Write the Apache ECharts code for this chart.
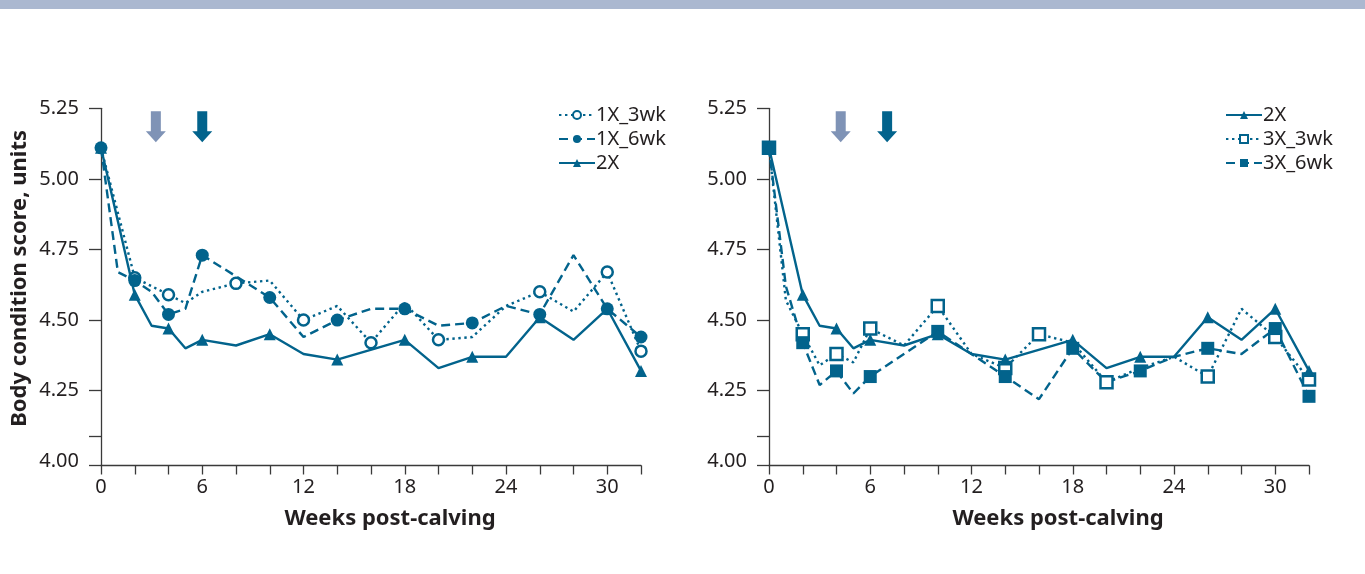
<!DOCTYPE html>
<html><head><meta charset="utf-8">
<script src="https://cdn.jsdelivr.net/npm/echarts@6/dist/echarts.min.js"></script>
<style>html,body{margin:0;padding:0;background:#fff}#c{width:1365px;height:574px}</style>
</head><body><div id="c"></div>
<script>
// ---- data ----
const weeks2X = [0,2,3,4,5,6,8,10,12,14,18,20,22,24,26,28,30,32];
const bcs2X   = [5.11,4.59,4.48,4.47,4.40,4.43,4.41,4.45,4.38,4.36,4.43,4.33,4.37,4.37,4.51,4.43,4.54,4.32];
const marks2X = [0,2,4,6,10,14,18,22,26,30,32];

const weeks1X3 = [0,2,4,5,6,8,10,12,14,16,18,20,22,24,26,28,30,32];
const bcs1X3   = [5.11,4.65,4.59,4.56,4.60,4.63,4.64,4.50,4.55,4.42,4.56,4.43,4.44,4.55,4.60,4.53,4.67,4.39];
const marks1X3 = [2,4,8,12,16,20,26,30,32];

const weeks1X6 = [0,1,2,3,4,5,6,10,12,14,16,18,20,22,24,26,28,30,32];
const bcs1X6   = [5.11,4.67,4.64,4.60,4.52,4.54,4.73,4.58,4.44,4.50,4.54,4.54,4.48,4.49,4.55,4.52,4.73,4.54,4.44];
const marks1X6 = [0,2,4,6,10,14,18,22,26,30,32];

const weeks3X3 = [0,1,2,3,4,5,6,8,10,12,14,16,18,20,22,24,26,28,30,32];
const bcs3X3   = [5.11,4.57,4.45,4.34,4.38,4.35,4.47,4.41,4.55,4.38,4.33,4.45,4.42,4.28,4.33,4.37,4.30,4.54,4.44,4.29];
const marks3X3 = [0,2,4,6,10,14,16,20,26,30,32];

const weeks3X6 = [0,1,2,3,4,5,6,10,12,14,16,18,20,22,24,26,28,30,32];
const bcs3X6   = [5.11,4.62,4.42,4.27,4.32,4.24,4.30,4.46,4.38,4.30,4.22,4.40,4.28,4.32,4.37,4.40,4.38,4.47,4.23];
const marks3X6 = [0,2,4,6,10,14,18,22,26,30,32];

const arrowWeeksLeft  = [3.25, 6];
const arrowWeeksRight = [4.25, 7];
const arrowLevel = 5.185;

const xTickValues  = [0,2,4,6,8,10,12,14,16,18,20,22,24,26,28,30,32];
const xLabelValues = [0,6,12,18,24,30];
const yTickValues  = [3.985,4.09,4.25,4.5,4.75,5.0,5.25];
const yLabelValues = [4.0,4.25,4.5,4.75,5.0,5.25];

// ---- styling ----
const C = '#02638C';
const ARROW_LIGHT = '#7F93B6';
const TXT = '#231F20';
const AX = '#3A3A3A';
const FONT = 'Noto Sans';

function series(name, weeks, vals, marks, g, st) {
  return {
    name, type: 'line', xAxisIndex: g, yAxisIndex: g,
    symbol: st.symbol, symbolSize: st.size, showSymbol: true, showAllSymbol: true,
    clip: false, z: st.z || 3,
    lineStyle: {color: C, width: 2.4, type: st.type, cap: 'butt'},
    itemStyle: {color: st.fill, borderColor: C, borderWidth: st.bw},
    emphasis: {disabled: true},
    data: weeks.map((w, i) => ({value: [w, vals[i]], symbol: marks.includes(w) ? st.symbol : 'none'}))
  };
}
function arrows(weeks, g) {
  return {
    type: 'scatter', xAxisIndex: g, yAxisIndex: g, silent: true, z: 5,
    symbol: 'path://M5,0 L15,0 L15,20 L20,20 L10,31 L0,20 L5,20 Z',
    symbolSize: [20, 31],
    itemStyle: {opacity: 1},
    data: weeks.map((w, i) => ({value: [w, arrowLevel], itemStyle: {color: i === 0 ? ARROW_LIGHT : C, opacity: 1}}))
  };
}
const stTri  = {symbol: 'triangle', size: 12, fill: C, bw: 0, type: 'solid', z: 4};
const stOC   = {symbol: 'circle', size: 11, fill: '#fff', bw: 2.5, type: [2.4, 3.6]};
const stFC   = {symbol: 'circle', size: 13, fill: C, bw: 0, type: [9, 5]};
const stOS   = {symbol: 'rect', size: 12, fill: '#fff', bw: 2.5, type: [2.4, 3.6]};
const stFS   = {symbol: 'rect', size: 13, fill: C, bw: 0, type: [9, 5]};

function xAxis(g) {
  return {
    gridIndex: g, type: 'value', min: 0, max: 32,
    axisLine: {show: true, onZero: false, lineStyle: {color: AX, width: 1.3}},
    axisTick: {show: true, length: 9, customValues: xTickValues, lineStyle: {color: AX, width: 1.3}},
    axisLabel: {customValues: xLabelValues, margin: 12, color: TXT, fontFamily: FONT, fontSize: 20},
    splitLine: {show: false},
    name: 'Weeks post-calving', nameLocation: 'middle', nameGap: 42,
    nameTextStyle: {color: TXT, fontFamily: FONT, fontSize: 22, fontWeight: 'bold', padding: [0, 0, 0, 38]}
  };
}
function yAxis(g, withName) {
  const a = {
    gridIndex: g, type: 'value', min: 3.985, max: 5.25,
    axisLine: {show: true, lineStyle: {color: AX, width: 1.3}},
    axisTick: {show: true, length: 12, customValues: yTickValues, lineStyle: {color: AX, width: 1.3}},
    axisLabel: {customValues: yLabelValues, margin: 22, color: TXT, fontFamily: FONT, fontSize: 20,
      formatter: v => Number(v).toFixed(2)},
    splitLine: {show: false}
  };
  if (withName) {
    a.name = 'Body condition score, units';
    a.nameLocation = 'middle';
    a.nameGap = 70;
    a.nameTextStyle = {color: TXT, fontFamily: FONT, fontSize: 22, fontWeight: 'bold', padding: [0, 0, 0, 17]};
  }
  return a;
}
const legendBase = {
  orient: 'vertical', itemWidth: 36, itemHeight: 10, itemGap: 4,
  textStyle: {color: TXT, fontFamily: FONT, fontSize: 20, padding: [0, 0, 0, -4]},
  selectedMode: false
};

const chart = echarts.init(document.getElementById('c'), null, {renderer: 'canvas'});
chart.setOption({
  animation: false,
  backgroundColor: '#fff',
  graphic: [{type: 'rect', left: 0, top: 0, shape: {width: 1365, height: 9}, style: {fill: '#ABB8D0'}}],
  grid: [
    {left: 101, right: 724, top: 108.3, bottom: 108.5},
    {left: 769, right: 56, top: 108.3, bottom: 108.5}
  ],
  xAxis: [xAxis(0), xAxis(1)],
  yAxis: [yAxis(0, true), yAxis(1, false)],
  legend: [
    Object.assign({}, legendBase, {left: 553, top: 100, data: ['1X_3wk', '1X_6wk', '2X']}),
    Object.assign({}, legendBase, {left: 1220, top: 100, data: ['2X', '3X_3wk', '3X_6wk']})
  ],
  series: [
    series('1X_3wk', weeks1X3, bcs1X3, marks1X3, 0, stOC),
    series('1X_6wk', weeks1X6, bcs1X6, marks1X6, 0, stFC),
    series('2X', weeks2X, bcs2X, marks2X, 0, stTri),
    arrows(arrowWeeksLeft, 0),
    series('2X', weeks2X, bcs2X, marks2X, 1, stTri),
    series('3X_3wk', weeks3X3, bcs3X3, marks3X3, 1, stOS),
    series('3X_6wk', weeks3X6, bcs3X6, marks3X6, 1, stFS),
    arrows(arrowWeeksRight, 1)
  ]
});
</script></body></html>
